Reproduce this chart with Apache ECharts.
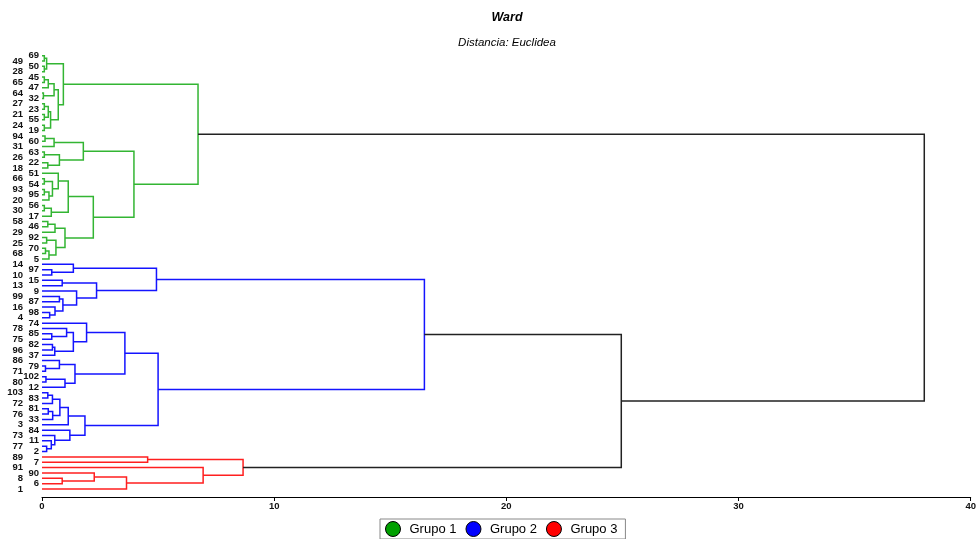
<!DOCTYPE html>
<html>
<head>
<meta charset="utf-8">
<script src="https://cdn.jsdelivr.net/npm/echarts@6/dist/echarts.min.js"></script>
<style>
  html, body { margin: 0; padding: 0; background: #fff; }
  #chart { width: 979px; height: 539px; }
</style>
</head>
<body>
<div id="chart"></div>
<script>
// Ward clustering, Euclidean distance.
// A node is either a leaf label or [left, right, mergeHeight].
const group1 = [
  [
    [[69, 49, 0.1], [50, 28, 0.1], 0.2],
    [
      [[[45, 65, 0.1], 47, 0.27], [64, 32, 0.06], 0.52],
      [[[27, 23, 0.1], [21, 55, 0.1], 0.27], [24, 19, 0.1], 0.37],
      0.70
    ],
    0.92
  ],
  [
    [[[94, 60, 0.13], 31, 0.52], [[63, 26, 0.1], [22, 18, 0.25], 0.75], 1.78],
    [
      [
        [51, [[66, 54, 0.1], [[93, 95, 0.1], 20, 0.3], 0.45], 0.70],
        [[56, 30, 0.1], 17, 0.4],
        1.13
      ],
      [
        [[58, 46, 0.25], 29, 0.56],
        [[92, 25, 0.2], [[70, 68, 0.15], 5, 0.3], 0.6],
        0.99
      ],
      2.21
    ],
    3.96
  ],
  6.72
];

const group2 = [
  [
    [14, [97, 10, 0.42], 1.35],
    [[15, 13, 0.87], [9, [[99, 87, 0.75], [16, [98, 4, 0.33], 0.56], 0.9], 1.49], 2.35],
    4.93
  ],
  [
    [
      [74, [[78, [85, 75, 0.42], 1.06], [[82, 96, 0.45], 37, 0.55], 1.35], 1.92],
      [[86, [79, 71, 0.15], 0.75], [[102, 80, 0.17], 12, 0.99], 1.42],
      3.57
    ],
    [
      [[[[103, 83, 0.25], 72, 0.45], [[81, 76, 0.27], 33, 0.46], 0.77], 3, 1.13],
      [84, [73, [11, [77, 2, 0.2], 0.4], 0.55], 1.2],
      1.85
    ],
    5.0
  ],
  16.47
];

const group3 = [
  [89, 7, 4.55],
  [91, [[90, [8, 6, 0.87], 2.25], 1, 3.64], 6.94],
  8.66
];

// Merges above the three groups
const mergeGroups23 = 24.95;
const mergeRoot = 38.0;

const groupNames = ['Grupo 1', 'Grupo 2', 'Grupo 3'];
const legendColors = ['#00a000', '#0000ff', '#ff0000'];
const branchColors = ['#33b533', '#1414ff', '#ff1f1f'];
const distanceTicks = [0, 10, 20, 30, 40];

const titleText = 'Ward';
const subtitleText = 'Distancia: Euclidea';

// ---- layout: leaves in traversal order, one bracket per merge ----
const leaves = [];
const brackets = [[], [], []];
const upperBrackets = [];

function layout(node, g) {
  if (!Array.isArray(node)) {
    const idx = leaves.length;
    leaves.push(String(node));
    return { h: 0, y: idx };
  }
  const a = layout(node[0], g);
  const b = layout(node[1], g);
  brackets[g].push([a.h, a.y, node[2], b.y, b.h]);
  return { h: node[2], y: (a.y + b.y) / 2 };
}

const n1 = layout(group1, 0);
const n2 = layout(group2, 1);
const n3 = layout(group3, 2);
upperBrackets.push([n2.h, n2.y, mergeGroups23, n3.y, n3.h]);
const n23 = { h: mergeGroups23, y: (n2.y + n3.y) / 2 };
upperBrackets.push([n1.h, n1.y, mergeRoot, n23.y, n23.h]);

const FONT = '"Liberation Sans", Arial, Helvetica, sans-serif';

function bracketRenderer(stroke) {
  return function (params, api) {
    const h1 = api.value(0), y1 = api.value(1), h = api.value(2), y2 = api.value(3), h2 = api.value(4);
    const pts = [api.coord([h1, y1]), api.coord([h, y1]), api.coord([h, y2]), api.coord([h2, y2])];
    return {
      type: 'polyline',
      shape: { points: pts },
      style: { stroke: stroke, fill: 'none', lineWidth: 1.5 }
    };
  };
}

const leafData = leaves.map((lab, i) => [0, i]);

const series = groupNames.map((name, g) => ({
  name: name,
  type: 'custom',
  coordinateSystem: 'cartesian2d',
  itemStyle: { color: legendColors[g] },
  renderItem: bracketRenderer(branchColors[g]),
  data: brackets[g],
  silent: true
}));

series.push({
  name: 'union',
  type: 'custom',
  coordinateSystem: 'cartesian2d',
  itemStyle: { color: '#000' },
  renderItem: bracketRenderer('#222'),
  data: upperBrackets,
  silent: true
});

// Leaf labels, alternating between two columns
series.push({
  name: 'hojas',
  type: 'custom',
  coordinateSystem: 'cartesian2d',
  renderItem: function (params, api) {
    const idx = api.value(1);
    const p = api.coord([0, idx]);
    const offset = idx % 2 === 0 ? 3 : 19;
    return {
      type: 'text',
      x: p[0] - offset,
      y: p[1],
      style: {
        text: leaves[params.dataIndex],
        align: 'right',
        verticalAlign: 'middle',
        fontFamily: FONT,
        fontWeight: 'bold',
        fontSize: 9.5,
        fill: '#111'
      }
    };
  },
  data: leafData,
  silent: true
});

const chart = echarts.init(document.getElementById('chart'), null, { renderer: 'canvas' });
const gridLeft = 42, gridRight = 7;
const titleX = gridLeft + (979 - gridLeft - gridRight) / 2;

chart.setOption({
  animation: false,
  backgroundColor: '#fff',
  graphic: [
    {
      type: 'text', x: titleX, y: 18,
      style: {
        text: titleText, align: 'center', verticalAlign: 'middle',
        fontFamily: FONT, fontWeight: 'bold', fontStyle: 'italic', fontSize: 12.5, fill: '#000'
      }
    },
    {
      type: 'text', x: titleX, y: 43,
      style: {
        text: subtitleText, align: 'center', verticalAlign: 'middle',
        fontFamily: FONT, fontStyle: 'italic', fontSize: 11.5, fill: '#000'
      }
    }
  ],
  grid: { left: gridLeft, right: gridRight, top: 53, bottom: 42, containLabel: false },
  xAxis: {
    type: 'value',
    min: distanceTicks[0],
    max: distanceTicks[distanceTicks.length - 1],
    interval: distanceTicks[1] - distanceTicks[0],
    axisLine: { show: true, onZero: false, lineStyle: { color: '#000', width: 1 } },
    axisTick: { show: true, length: 4, lineStyle: { color: '#000' } },
    axisLabel: { fontFamily: FONT, fontWeight: 'bold', fontSize: 9.5, color: '#111', margin: 4 },
    splitLine: { show: false }
  },
  yAxis: {
    type: 'value',
    min: -0.5,
    max: leaves.length + 0.5,
    inverse: true,
    show: false
  },
  legend: {
    data: groupNames,
    left: 380,
    top: 519,
    orient: 'horizontal',
    icon: 'circle',
    itemWidth: 15,
    itemHeight: 15,
    itemGap: 9,
    padding: [2, 8, 2, 5],
    borderColor: '#888',
    borderWidth: 1,
    backgroundColor: '#fff',
    itemStyle: { borderColor: '#000', borderWidth: 1 },
    textStyle: { fontFamily: FONT, fontSize: 13, color: '#000', padding: [0, 0, 0, 4] },
    selectedMode: false
  },
  series: series
});
</script>
</body>
</html>
